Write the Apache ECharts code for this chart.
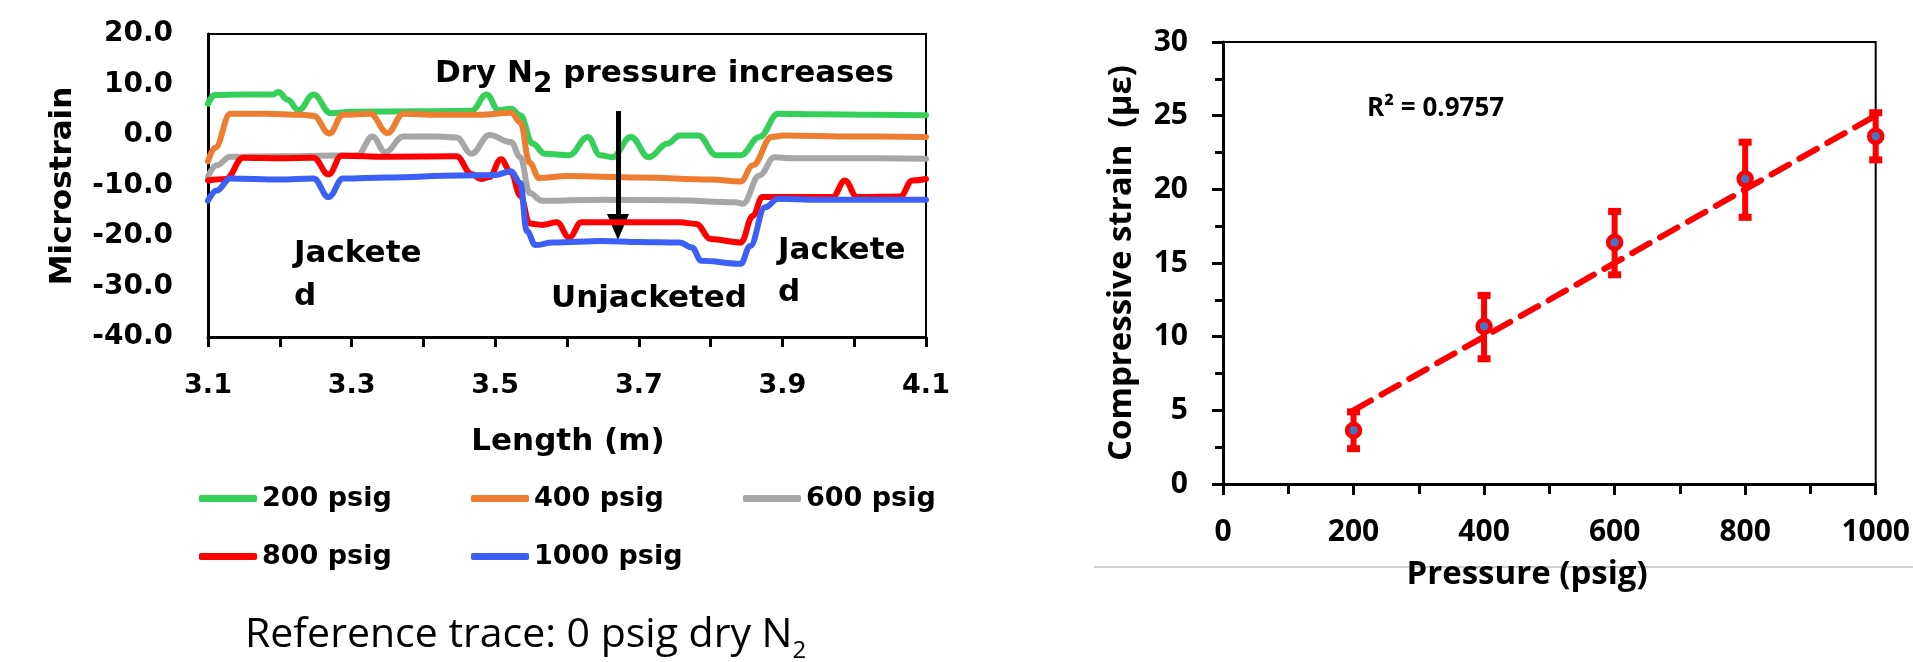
<!DOCTYPE html>
<html>
<head>
<meta charset="utf-8">
<script src="https://cdn.jsdelivr.net/npm/echarts@6/dist/echarts.min.js"></script>
<style>
html,body{margin:0;padding:0;background:#fff;}
#chart{width:1913px;height:662px;}
</style>
</head>
<body>
<div id="chart"></div>
<script>
// ---------- Left chart: strain profiles along length ----------
const seriesNames = ['200 psig', '400 psig', '600 psig', '800 psig', '1000 psig'];
const seriesColors = ['#35d05a', '#ed7d31', '#a6a6a6', '#ff0000', '#3c5ff5'];

const trace200 = [
  [3.100, 6.2], [3.109, 7.9], [3.150, 8.0], [3.190, 8.0], [3.198, 8.5], [3.211, 7.0],
  [3.226, 4.9], [3.247, 8.0], [3.271, 4.3], [3.300, 4.6], [3.400, 4.7], [3.467, 4.8],
  [3.488, 8.0], [3.505, 4.9], [3.522, 5.2], [3.535, 3.9], [3.552, -1.7], [3.569, -3.7],
  [3.603, -4.0], [3.629, -0.4], [3.646, -4.0], [3.663, -4.4], [3.689, -0.4], [3.714, -4.4],
  [3.740, -1.7], [3.757, -0.1], [3.783, -0.1], [3.808, -4.0], [3.842, -4.0], [3.868, -0.4],
  [3.894, 4.2], [3.950, 4.1], [4.030, 4.0], [4.100, 3.9]
];
const trace400 = [
  [3.100, -5.2], [3.110, -2.5], [3.131, 4.2], [3.180, 4.2], [3.230, 4.0], [3.247, 3.8],
  [3.269, 0.3], [3.288, 4.0], [3.326, 4.2], [3.350, 0.4], [3.372, 4.2], [3.420, 4.0],
  [3.480, 4.0], [3.522, 4.4], [3.535, 2.5], [3.548, -5.5], [3.561, -8.5], [3.600, -8.1],
  [3.700, -8.4], [3.800, -8.8], [3.842, -9.2], [3.859, -6.0], [3.885, -0.4], [3.902, -0.1],
  [4.000, -0.3], [4.100, -0.4]
];
const trace600 = [
  [3.100, -8.2], [3.112, -6.0], [3.131, -4.3], [3.200, -4.2], [3.308, -4.0], [3.329, -0.3],
  [3.347, -3.4], [3.372, -0.3], [3.420, -0.3], [3.446, -0.5], [3.467, -3.7], [3.492, 0.0],
  [3.522, -1.4], [3.535, -4.4], [3.548, -11.5], [3.565, -13.0], [3.650, -12.8], [3.750, -12.9],
  [3.834, -13.3], [3.845, -13.6], [3.868, -8.0], [3.889, -4.4], [3.911, -4.6], [4.000, -4.6],
  [4.100, -4.7]
];
const trace800 = [
  [3.100, -9.0], [3.125, -8.7], [3.149, -4.5], [3.200, -4.6], [3.247, -4.5], [3.268, -7.8],
  [3.286, -4.1], [3.350, -4.3], [3.446, -4.2], [3.467, -7.7], [3.480, -8.7], [3.492, -8.3],
  [3.508, -4.8], [3.522, -7.4], [3.535, -12.0], [3.548, -17.5], [3.565, -17.8], [3.586, -17.3],
  [3.603, -20.3], [3.620, -17.3], [3.680, -17.3], [3.757, -17.3], [3.780, -17.6], [3.800, -20.6],
  [3.842, -21.3], [3.859, -16.0], [3.872, -12.3], [3.930, -12.3], [3.970, -12.3], [3.987, -9.0],
  [4.004, -12.3], [4.064, -12.2], [4.081, -9.0], [4.100, -8.7]
];
const trace1000 = [
  [3.100, -13.0], [3.112, -11.0], [3.131, -8.6], [3.200, -8.8], [3.247, -8.6], [3.268, -12.3],
  [3.288, -8.6], [3.350, -8.4], [3.450, -8.0], [3.500, -7.9], [3.522, -7.2], [3.535, -9.5],
  [3.544, -19.0], [3.556, -21.8], [3.580, -21.3], [3.650, -21.0], [3.700, -21.2], [3.757, -21.3],
  [3.774, -22.3], [3.787, -24.9], [3.842, -25.5], [3.855, -22.0], [3.876, -14.3], [3.894, -12.6],
  [3.950, -12.8], [4.050, -12.8], [4.100, -12.8]
];
const traces = [trace200, trace400, trace600, trace800, trace1000];

// arrow annotation (data coordinates of left chart)
const arrowX = 3.671;
const arrowFrom = 4.75;
const arrowTo = -18.2;

// ---------- Right chart: compressive strain vs pressure ----------
const pressure = [200, 400, 600, 800, 1000];
const strain = [3.64, 10.7, 16.4, 20.7, 23.6];
const errLow = [2.4, 8.5, 14.2, 18.1, 22.0];
const errHigh = [4.9, 12.8, 18.5, 23.2, 25.2];
const trendX = [200, 1000];
const trendY = [5.0, 25.0];
const rSquaredText = 'R\u00b2 = 0.9757';

// ---------- layout ----------
const legendPos = [
  {left: 199, top: 485}, {left: 471, top: 485}, {left: 743, top: 485},
  {left: 199, top: 543}, {left: 471, top: 543}
];

const LF = 'DejaVu Sans';
const RF = 'Open Sans';

const chart = echarts.init(document.getElementById('chart'), null, {renderer: 'canvas'});

const lineSeries = seriesNames.map((name, i) => ({
  name: name,
  type: 'line',
  xAxisIndex: 0,
  yAxisIndex: 0,
  data: traces[i],
  showSymbol: false,
  smooth: 0.4,
  smoothMonotone: 'x',
  color: seriesColors[i],
  lineStyle: {width: 6, color: seriesColors[i], cap: 'round', join: 'round'},
  z: 2 + i,
  silent: true,
  markLine: i === 0 ? {
    silent: true,
    animation: false,
    symbol: ['none', 'triangle'],
    symbolSize: [22, 26],
    label: {show: false},
    lineStyle: {color: '#000', width: 5, type: 'solid'},
    itemStyle: {color: '#000'},
    data: [[{coord: [arrowX, arrowFrom]}, {coord: [arrowX, arrowTo]}]]
  } : undefined
}));

const option = {
  animation: false,
  backgroundColor: '#fff',
  grid: [
    {left: 208, top: 34, width: 718, height: 303, show: true, borderColor: '#000', borderWidth: 2, backgroundColor: 'transparent'},
    {left: 1223, top: 42, width: 673, height: 442, show: true, borderColor: '#000', borderWidth: 2, backgroundColor: 'transparent'}
  ],
  xAxis: [
    {
      gridIndex: 0, type: 'value', min: 3.1, max: 4.1, interval: 0.1,
      axisLine: {show: true, onZero: false, lineStyle: {color: '#000', width: 3}},
      axisTick: {show: true, inside: false, length: 10, lineStyle: {color: '#000', width: 3}},
      splitLine: {show: false},
      axisLabel: {
        margin: 35, fontSize: 27, fontFamily: LF, fontWeight: 'bold', color: '#000',
        formatter: v => (Math.round(v * 10) % 2 === 1 ? v.toFixed(1) : '')
      }
    },
    {
      gridIndex: 1, type: 'value', min: 0, max: 1000, interval: 200,
      axisLine: {show: true, onZero: false, lineStyle: {color: '#000', width: 3}},
      axisTick: {show: true, inside: false, length: 11, lineStyle: {color: '#000', width: 3}},
      minorTick: {show: true, splitNumber: 2, length: 10, lineStyle: {color: '#000', width: 3}},
      splitLine: {show: false},
      axisLabel: {margin: 33, fontSize: 30, fontFamily: RF, fontWeight: 'bold', color: '#000',
        formatter: v => String(Math.round(v))}
    }
  ],
  yAxis: [
    {
      gridIndex: 0, type: 'value', min: -40, max: 20, interval: 10,
      axisLine: {show: true, onZero: false, lineStyle: {color: '#000', width: 3}},
      axisTick: {show: false},
      splitLine: {show: false},
      axisLabel: {margin: 35, fontSize: 28, fontFamily: LF, fontWeight: 'bold', color: '#000',
        formatter: v => v.toFixed(1)}
    },
    {
      gridIndex: 1, type: 'value', min: 0, max: 30, interval: 5,
      axisLine: {show: true, onZero: false, lineStyle: {color: '#000', width: 3}},
      axisTick: {show: true, inside: false, length: 11, lineStyle: {color: '#000', width: 3}},
      minorTick: {show: true, splitNumber: 2, length: 8, lineStyle: {color: '#000', width: 3}},
      splitLine: {show: false},
      axisLabel: {margin: 35, fontSize: 30, fontFamily: RF, fontWeight: 'bold', color: '#000'}
    }
  ],
  legend: seriesNames.map((name, i) => ({
    data: [name],
    left: legendPos[i].left,
    top: legendPos[i].top,
    padding: 0,
    icon: 'roundRect',
    itemWidth: 58,
    itemHeight: 7,
    selectedMode: false,
    textStyle: {fontFamily: LF, fontWeight: 'bold', fontSize: 27, color: '#000'}
  })),
  series: lineSeries.concat([
    {
      name: 'trend',
      type: 'line',
      xAxisIndex: 1, yAxisIndex: 1,
      data: trendX.map((x, i) => [x, trendY[i]]),
      showSymbol: false,
      silent: true,
      lineStyle: {color: '#ff0000', width: 6, type: [20, 12], cap: 'round'},
      z: 2
    },
    {
      name: 'error',
      type: 'custom',
      xAxisIndex: 1, yAxisIndex: 1,
      data: pressure.map((p, i) => [p, errLow[i], errHigh[i]]),
      encode: {x: 0, y: [1, 2]},
      silent: true,
      z: 3,
      renderItem: function (params, api) {
        const x = api.value(0);
        const lo = api.coord([x, api.value(1)]);
        const hi = api.coord([x, api.value(2)]);
        const cw = 13, ch = 7;
        return {
          type: 'group',
          children: [
            {type: 'line', shape: {x1: lo[0], y1: lo[1], x2: hi[0], y2: hi[1]}, style: {stroke: '#ff0000', lineWidth: 6}},
            {type: 'rect', shape: {x: hi[0] - cw / 2, y: hi[1] - ch / 2, width: cw, height: ch}, style: {fill: '#ff0000'}},
            {type: 'rect', shape: {x: lo[0] - cw / 2, y: lo[1] - ch / 2, width: cw, height: ch}, style: {fill: '#ff0000'}}
          ]
        };
      }
    },
    {
      name: 'points',
      type: 'scatter',
      xAxisIndex: 1, yAxisIndex: 1,
      data: pressure.map((p, i) => [p, strain[i]]),
      symbol: 'circle',
      symbolSize: 13,
      clip: false,
      silent: true,
      itemStyle: {color: '#4a72c0', borderColor: '#ff0000', borderWidth: 4.5, opacity: 1},
      z: 4
    }
  ]),
  graphic: [
    {type: 'line', z: 1, shape: {x1: 1094, y1: 567, x2: 1913, y2: 567}, style: {stroke: '#bfbfbf', lineWidth: 1.5}},
    {type: 'text', z: 10, x: 63, y: 186, rotation: Math.PI / 2,
      style: {text: 'Microstrain', fill: '#000', font: 'bold 31px "DejaVu Sans"', textAlign: 'center', textVerticalAlign: 'middle'}},
    {type: 'text', z: 10, x: 568, y: 442,
      style: {text: 'Length (m)', fill: '#000', font: 'bold 31px "DejaVu Sans"', textAlign: 'center', textVerticalAlign: 'middle'}},
    {type: 'text', z: 10, x: 435, y: 74,
      style: {
        text: '{m|Dry N}{s|2}{m| pressure increases}', textAlign: 'left', textVerticalAlign: 'middle',
        rich: {
          m: {fontFamily: LF, fontWeight: 'bold', fontSize: 31, lineHeight: 50, color: '#000'},
          s: {fontFamily: LF, fontWeight: 'bold', fontSize: 28, lineHeight: 28, verticalAlign: 'bottom', color: '#000'}
        }
      }},
    {type: 'text', z: 10, x: 294, y: 232,
      style: {text: 'Jackete\nd', fill: '#000', font: 'bold 31px "DejaVu Sans"', lineHeight: 43.5, textAlign: 'left', textVerticalAlign: 'top'}},
    {type: 'text', z: 10, x: 778, y: 230,
      style: {text: 'Jackete\nd', fill: '#000', font: 'bold 31px "DejaVu Sans"', lineHeight: 42, textAlign: 'left', textVerticalAlign: 'top'}},
    {type: 'text', z: 10, x: 551, y: 299,
      style: {text: 'Unjacketed', fill: '#000', font: 'bold 31px "DejaVu Sans"', textAlign: 'left', textVerticalAlign: 'middle'}},
    {type: 'text', z: 10, x: 245, y: 635,
      style: {
        text: '{m|Reference trace: 0 psig dry N}{s|2}', textAlign: 'left', textVerticalAlign: 'middle',
        rich: {
          m: {fontFamily: RF, fontSize: 41, lineHeight: 57, color: '#000'},
          s: {fontFamily: RF, fontSize: 24, lineHeight: 24, verticalAlign: 'bottom', color: '#000'}
        }
      }},
    {type: 'text', z: 10, x: 1367, y: 109,
      style: {text: rSquaredText, fill: '#000', font: 'bold 26px "Open Sans"', textAlign: 'left', textVerticalAlign: 'middle'}},
    {type: 'text', z: 10, x: 1122, y: 263, rotation: Math.PI / 2,
      style: {text: 'Compressive strain  (\u03bc\u03b5)', fill: '#000', font: 'bold 33px "Open Sans"', textAlign: 'center', textVerticalAlign: 'middle'}},
    {type: 'text', z: 10, x: 1527, y: 575,
      style: {text: 'Pressure (psig)', fill: '#000', font: 'bold 33px "Open Sans"', textAlign: 'center', textVerticalAlign: 'middle'}}
  ]
};

chart.setOption(option);
</script>
</body>
</html>
